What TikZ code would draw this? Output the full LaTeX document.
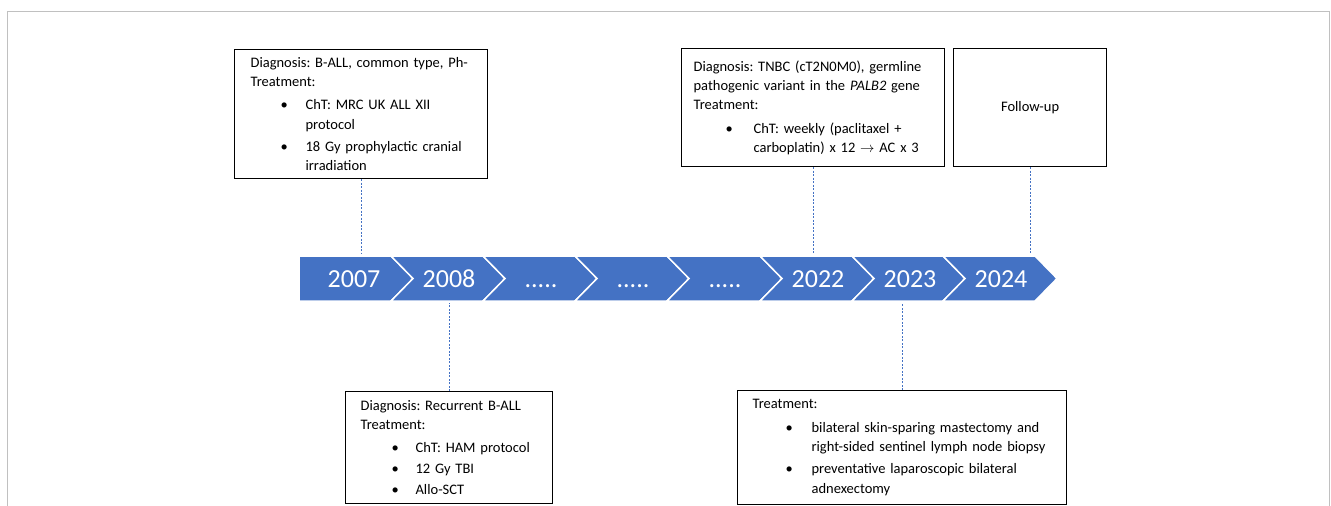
\documentclass[tikz,border=0pt]{standalone}
\usepackage{fontspec}
\setmainfont{Carlito}
\definecolor{officeblue}{HTML}{4472C4}
\definecolor{framegrey}{HTML}{C0C0C0}
\newcommand\bitem[3]{\hspace*{#1}\makebox[#2][l]{\textbullet}#3}
\frenchspacing
\begin{document}
\begin{tikzpicture}[x=1pt,y=-1pt,
  box/.style={draw=black, line width=1.2pt, align=left, anchor=north west,
    inner ysep=0pt, font=\frenchspacing\fontsize{14.5}{19.3}\selectfont},
  conn/.style={draw=officeblue, line width=1.1pt, dash pattern=on 2pt off 1.5pt},
  chev/.style={fill=officeblue, draw=white, line width=1.5pt, line join=miter},
  year/.style={text=white, font=\fontsize{26}{26}\selectfont, anchor=base, inner sep=0pt}]
\useasboundingbox (0,0) rectangle (1331,506);
% frame
\draw[framegrey, line width=1pt] (7,506) -- (7,11) -- (1329.5,11) -- (1329.5,506);
% chevrons
\path[chev] (299,256) -- (391,256) -- (413,278.5) -- (391,301) -- (299,301) -- cycle;
\foreach \l/\r in {391/483, 483/575, 575/667, 667/760, 760/852, 852/943, 943/1035}{
  \path[chev] (\l,256) -- (\r,256) -- (\r+22,278.5) -- (\r,301) -- (\l,301) -- (\l+22,278.5) -- cycle;
}
\coordinate (bandtop) at (0,254);
\coordinate (bandbot) at (0,303);
% year labels
\node[year] (y1) at (354,287) {2007};
\node[year] (y2) at (449,287) {2008};
\node[year] (y3) at (541,287) {.....};
\node[year] (y4) at (633,287) {.....};
\node[year] (y5) at (725,287) {.....};
\node[year] (y6) at (818,287) {2022};
\node[year] (y7) at (910,287) {2023};
\node[year] (y8) at (1001,287) {2024};
% boxes
\node[box, inner xsep=16pt, text width=221pt, minimum height=129pt] (b1) at (234,49) {%
Diagnosis: B-ALL, common type, Ph-\\
Treatment:\\[4pt]
\bitem{30pt}{25pt}{ChT: MRC UK ALL XII}\\
\hspace*{55pt}protocol\\[3pt]
\bitem{30pt}{25pt}{18 Gy prophylactic cranial}\\
\hspace*{55pt}irradiation};
\node[box, inner xsep=12pt, text width=239pt, minimum height=118pt] (b2) at (681,48) {%
Diagnosis: TNBC (cT2N0M0), germline\\
pathogenic variant in the \textit{PALB2} gene\\
Treatment:\\[4pt]
\bitem{32pt}{28pt}{ChT: weekly (paclitaxel +}\\
\hspace*{60pt}carboplatin) x 12 $\rightarrow$ AC x 3};
\node[box, align=center, inner xsep=0pt, text width=153pt, minimum height=118pt] (b3) at (953,48) {Follow-up};
\node[box, inner xsep=15pt, text width=177pt, minimum height=112pt] (b4) at (345,391) {%
Diagnosis: Recurrent B-ALL\\
Treatment:\\[3pt]
\bitem{31pt}{24pt}{ChT: HAM protocol}\\[2pt]
\bitem{31pt}{24pt}{12 Gy TBI}\\[2pt]
\bitem{31pt}{24pt}{Allo-SCT}};
\node[box, inner xsep=15pt, text width=299pt, minimum height=114pt] (b5) at (737,390) {%
Treatment:\\[4pt]
\bitem{33pt}{26pt}{bilateral skin-sparing mastectomy and}\\
\hspace*{59pt}right-sided sentinel lymph node biopsy\\[3pt]
\bitem{33pt}{26pt}{preventative laparoscopic bilateral}\\
\hspace*{59pt}adnexectomy};
% connectors
\draw[conn] (b1.south) -- (b1.south |- bandtop);
\draw[conn] (b2.south) -- (b2.south |- bandtop);
\draw[conn] (b3.south) -- (b3.south |- bandtop);
\draw[conn] (b4.north) -- (b4.north |- bandbot);
\draw[conn] (b5.north) -- (b5.north |- bandbot);
\end{tikzpicture}
\end{document}
